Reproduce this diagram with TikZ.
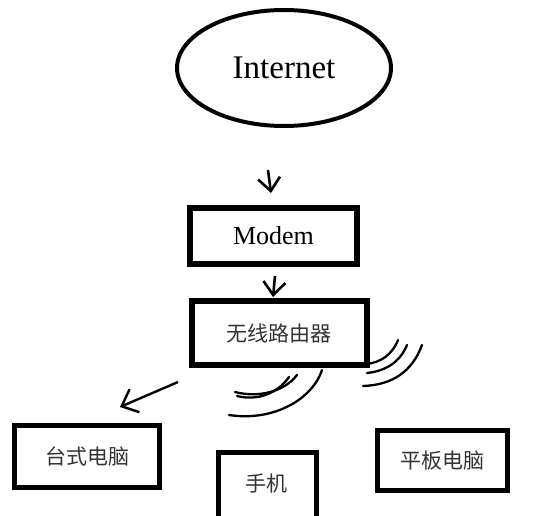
\documentclass[tikz,border=0pt]{standalone}
\usepackage{fontspec}
\setmainfont{Liberation Serif}
\newfontfamily\cjk{Noto Sans CJK SC}
\usetikzlibrary{shapes.geometric,arrows.meta}
\tikzset{
  boxa/.style={draw, line width=6pt, inner sep=0pt, align=center},
  boxb/.style={draw, line width=5pt, inner sep=0pt, align=center},
  cjktext/.style={font=\cjk\fontsize{21}{24}\selectfont, text=black!80},
  arr/.style={line width=2.6pt, -{Straight Barb[length=13pt,width=22pt,line width=2.6pt]}},
  wave/.style={line width=2.3pt, line cap=round},
}
\begin{document}
\begin{tikzpicture}[x=1pt,y=-1pt]
\useasboundingbox (0,0) rectangle (535,516);
\node[draw, ellipse, line width=4pt, minimum width=214pt, minimum height=116pt, inner sep=0pt,
      font=\fontsize{33}{36}\selectfont] (inet) at (284,68) {Internet};
\node[boxa, minimum width=167pt, minimum height=56pt, font=\fontsize{26}{30}\selectfont] (modem) at (273.5,236) {Modem};
\node[boxa, cjktext, minimum width=175pt, minimum height=64pt] (router) at (279,333) {无线路由器};
\node[boxb, cjktext, minimum width=145pt, minimum height=62pt] (desk) at (87,456.5) {台式电脑};
\node[boxb, cjktext, minimum width=130pt, minimum height=60pt] (tab) at (442.5,460.5) {平板电脑};
\node[boxb, cjktext, minimum width=98pt, minimum height=78pt] (phone) at (267,491) {};
\node[cjktext] (phonet) at (266,484) {手机};
% arrows
\coordinate (a1s) at (268,170);
\coordinate (a1e) at (271,193);
\draw[arr] (a1s) -- (a1e);
\coordinate (a2s) at (275,276);
\coordinate (a2e) at (273,297);
\draw[arr] (a2s) -- (a2e);
\coordinate (a3s) at (178,382);
\coordinate (a3e) at (120,407);
\draw[arr, -{Straight Barb[length=14pt,width=25pt,line width=2.4pt]}, line width=2.4pt] (a3s) -- (a3e);
% waves right
\coordinate (w1s) at (398,340); \coordinate (w1e) at (367,364);
\coordinate (w2s) at (407,345); \coordinate (w2e) at (367,373);
\coordinate (w3s) at (422,345); \coordinate (w3e) at (363,386);
\draw[wave] (w1s) .. controls (392,355) and (381,362) .. (w1e);
\draw[wave] (w2s) .. controls (400,362) and (386,371) .. (w2e);
\draw[wave] (w3s) .. controls (412,372) and (392,385) .. (w3e);
% waves bottom
\coordinate (w4s) at (297,375); \coordinate (w4e) at (235,392);
\coordinate (w5s) at (289,377); \coordinate (w5e) at (237,396);
\coordinate (w6s) at (322,370); \coordinate (w6e) at (229,415);
\draw[wave] (w4s) .. controls (284,392) and (258,398) .. (w4e);
\draw[wave] (w5s) .. controls (277,394) and (257,401) .. (w5e);
\draw[wave] (w6s) .. controls (313,398) and (275,422) .. (w6e);
\end{tikzpicture}
\end{document}
